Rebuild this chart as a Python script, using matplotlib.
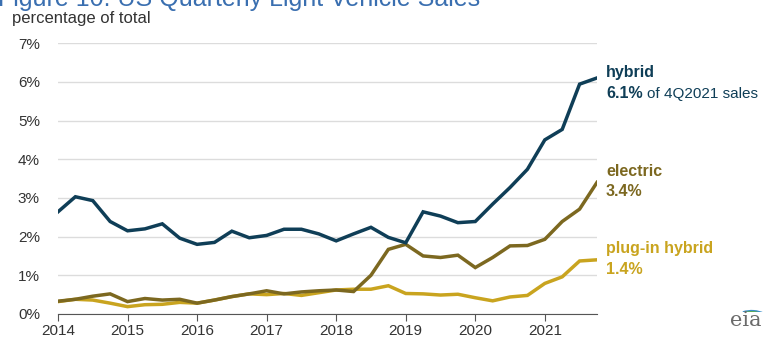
import numpy as np
import matplotlib.pyplot as plt
from matplotlib.patches import Arc

plt.rcParams['font.family'] = ['Liberation Sans', 'DejaVu Sans']

# quarterly share of US light vehicle sales, 1Q2014 - 4Q2021 (percent)
quarters = np.arange(2014, 2022, 0.25)
hybrid = [2.64, 3.03, 2.93, 2.39, 2.15, 2.20, 2.33, 1.96,
          1.80, 1.85, 2.14, 1.97, 2.03, 2.19, 2.19, 2.07,
          1.89, 2.07, 2.24, 1.98, 1.84, 2.64, 2.53, 2.36,
          2.39, 2.84, 3.27, 3.74, 4.50, 4.77, 5.94, 6.10]
electric = [0.33, 0.38, 0.46, 0.52, 0.32, 0.40, 0.36, 0.38,
            0.28, 0.36, 0.45, 0.52, 0.60, 0.52, 0.57, 0.60,
            0.62, 0.58, 1.00, 1.67, 1.80, 1.50, 1.46, 1.52,
            1.20, 1.46, 1.76, 1.77, 1.93, 2.39, 2.71, 3.40]
plugin = [0.32, 0.38, 0.36, 0.28, 0.19, 0.24, 0.25, 0.30,
          0.28, 0.36, 0.45, 0.52, 0.50, 0.53, 0.48, 0.55,
          0.62, 0.64, 0.64, 0.73, 0.53, 0.52, 0.49, 0.51,
          0.42, 0.34, 0.44, 0.48, 0.79, 0.96, 1.37, 1.40]
years = list(range(2014, 2022))

c_hyb = '#0f3e57'
c_ele = '#7c6820'
c_plg = '#c9a41f'

fig = plt.figure(figsize=(7.7, 3.42), dpi=100)
ax = fig.add_axes([0.0753, 0.0819, 0.700, 0.792])

ax.plot(quarters, plugin, color=c_plg, lw=2.5, solid_joinstyle='miter')
ax.plot(quarters, electric, color=c_ele, lw=2.5, solid_joinstyle='miter')
ax.plot(quarters, hybrid, color=c_hyb, lw=2.5, solid_joinstyle='miter')

ax.set_xlim(2014, 2021.75)
ax.set_ylim(0, 7)
ax.set_xticks(years)
ax.set_xticklabels([str(y) for y in years])
ax.set_yticks(range(0, 8))
ax.set_yticklabels([f'{v}%' for v in range(0, 8)])
ax.yaxis.grid(True, color='#dcdcdc', lw=1)
ax.set_axisbelow(True)
for s in ['top', 'right', 'left']:
    ax.spines[s].set_visible(False)
ax.spines['bottom'].set_color('#555555')
ax.tick_params(axis='x', direction='out', length=5, color='#555555',
               labelsize=11, labelcolor='#333333', pad=2)
ax.tick_params(axis='y', length=0, labelsize=11, labelcolor='#333333', pad=13)

def fy(py):
    return 1 - py / 342

# title (runs off the top edge) and unit label
fig.text(-0.002, fy(6), 'Figure 10. US Quarterly Light Vehicle Sales', color='#3a6fb0',
         fontsize=18, va='baseline', ha='left')
fig.text(0.015, fy(19), 'percentage of total', color='#333333', fontsize=12,
         va='center', ha='left')

# series labels at the line ends
tx = 606 / 770
fig.text(tx, fy(73), 'hybrid', color=c_hyb, fontsize=11.5, fontweight='bold', va='center')
t = fig.text(tx, fy(94), '6.1%', color=c_hyb, fontsize=11.5, fontweight='bold', va='center')
fig.canvas.draw()
bb = t.get_window_extent()
fig.text((bb.x1 + 4) / 770, fy(94), 'of 4Q2021 sales', color=c_hyb, fontsize=11,
         va='center')
fig.text(tx, fy(172), 'electric', color=c_ele, fontsize=11.5, fontweight='bold', va='center')
fig.text(tx, fy(192), '3.4%', color=c_ele, fontsize=11.5, fontweight='bold', va='center')
fig.text(tx, fy(249), 'plug-in hybrid', color=c_plg, fontsize=11.5, fontweight='bold', va='center')
fig.text(tx, fy(269), '1.4%', color=c_plg, fontsize=11.5, fontweight='bold', va='center')

# eia mark
fig.text(746 / 770, fy(321), 'eia', color='#6b6b6b', fontsize=15, family='DejaVu Serif',
         ha='center', va='center')
lax = fig.add_axes([730 / 770, fy(312), 36 / 770, 12 / 342])
lax.set_xlim(-1, 1)
lax.set_ylim(0, 1)
lax.axis('off')
for r, col in [(1.6, '#3b8fc9'), (1.4, '#58a94a'), (1.2, '#a6c83a')]:
    lax.add_patch(Arc((0.2, -0.7), r * 1.2, r, theta1=40, theta2=125, color=col, lw=1.3))

fig.savefig('out.png', dpi=100)
